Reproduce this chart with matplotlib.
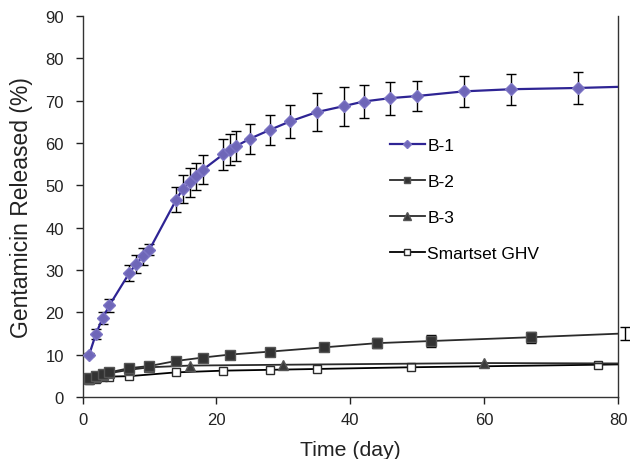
import matplotlib
matplotlib.use("Agg")
import matplotlib.pyplot as plt

plt.rcParams['font.family'] = ['Liberation Sans', 'DejaVu Sans']

# B-1
b1_days = [1, 2, 3, 4, 7, 8, 9, 10, 14, 15, 16, 17, 18, 21, 22, 23, 25, 28, 31, 35, 39, 42, 46, 50, 57, 64, 74, 81]
b1_vals = [10.0, 14.9, 18.6, 21.6, 29.3, 31.4, 33.2, 34.8, 46.6, 49.2, 50.7, 52.1, 53.7, 57.3, 58.4, 59.3, 61.0, 63.1, 65.1, 67.3, 68.7, 69.8, 70.6, 71.1, 72.2, 72.7, 73.0, 73.3]
b1_err = [0.3, 1.2, 1.4, 1.6, 1.8, 2.2, 2.1, 1.3, 2.9, 3.3, 3.4, 3.2, 3.5, 3.6, 3.7, 3.5, 3.5, 3.6, 3.9, 4.4, 4.6, 4.0, 3.9, 3.6, 3.7, 3.7, 3.7, 0.0]

# B-2
b2_days = [1, 2, 3, 4, 7, 10, 14, 18, 22, 28, 36, 44, 52, 67, 81]
b2_vals = [4.5, 5.0, 5.5, 5.8, 6.8, 7.3, 8.5, 9.3, 10.0, 10.7, 11.7, 12.7, 13.2, 14.1, 15.0]
b2_err = [0.4, 0.4, 0.5, 0.5, 0.5, 0.6, 0.7, 0.8, 0.7, 0.8, 0.9, 1.1, 1.4, 1.35, 1.6]

# B-3
b3_days = [1, 2, 3, 4, 7, 10, 16, 30, 60, 81]
b3_vals = [4.3, 4.8, 5.2, 5.6, 6.4, 7.0, 7.4, 7.6, 8.0, 7.9]

# Smartset GHV
gh_days = [1, 2, 3, 4, 7, 14, 21, 28, 35, 49, 77, 81]
gh_vals = [4.0, 4.3, 4.6, 4.8, 4.9, 5.8, 6.2, 6.4, 6.6, 7.0, 7.6, 7.7]

x_ticks = [0, 20, 40, 60, 80]
y_ticks = [0, 10, 20, 30, 40, 50, 60, 70, 80, 90]

fig = plt.figure(figsize=(6.3, 4.6), dpi=100)
ax = fig.add_axes([0.131, 0.135, 0.850, 0.828])

purple_line = '#2E2494'
purple_fill = '#6E66B8'
dark = '#2b2b2b'

# error bars (drawn first)
ax.errorbar(b1_days[:-1], b1_vals[:-1], yerr=b1_err[:-1], fmt='none', ecolor='black',
            elinewidth=1.0, capsize=3.5, capthick=1.0, zorder=2)
eb = ax.errorbar(b2_days, b2_vals, yerr=b2_err, fmt='none', ecolor='black',
                 elinewidth=1.0, capsize=3.5, capthick=1.0, zorder=2)
for art in eb.lines[1] + eb.lines[2]:
    art.set_clip_on(False)

ax.plot(gh_days, gh_vals, color='black', lw=1.3, marker='s', ms=6,
        mfc='white', mec=dark, mew=1.0, label='Smartset GHV', zorder=3)
ax.plot(b3_days, b3_vals, color=dark, lw=1.3, marker='^', ms=7,
        mfc='#3a3a3a', mec='#555555', label='B-3', zorder=4)
ax.plot(b2_days, b2_vals, color=dark, lw=1.3, marker='s', ms=6.5,
        mfc='#333333', mec='#555555', label='B-2', zorder=5)
ax.plot(b1_days, b1_vals, color=purple_line, lw=1.6, marker='D', ms=6,
        mfc=purple_fill, mec='#7C74C4', label='B-1', zorder=6)

ax.set_xlim(0, 80)
ax.set_ylim(0, 90)
ax.set_xticks(x_ticks)
ax.set_yticks(y_ticks)
ax.tick_params(axis='both', direction='out', length=5, width=1, labelsize=12,
               colors='#222222')
ax.tick_params(axis='x', pad=6)
ax.tick_params(axis='y', pad=8.5)
ax.spines['top'].set_visible(False)
for s in ['left', 'bottom', 'right']:
    ax.spines[s].set_linewidth(1.0)
    ax.spines[s].set_color('#333333')

ax.set_xlabel('Time (day)', fontsize=15.3, labelpad=9, color='#222222')
ax.set_ylabel('Gentamicin Released (%)', fontsize=16.5, labelpad=9, color='#222222')

handles, labels = ax.get_legend_handles_labels()
order = [labels.index(l) for l in ['B-1', 'B-2', 'B-3', 'Smartset GHV']]
ax.legend([handles[i] for i in order], [labels[i] for i in order],
          loc='upper left', bbox_to_anchor=(0.545, 0.72), frameon=False,
          fontsize=12.5, handlelength=2.0, handletextpad=0.15, labelspacing=1.2,
          markerscale=0.75)

fig.savefig('out.png', dpi=100)
